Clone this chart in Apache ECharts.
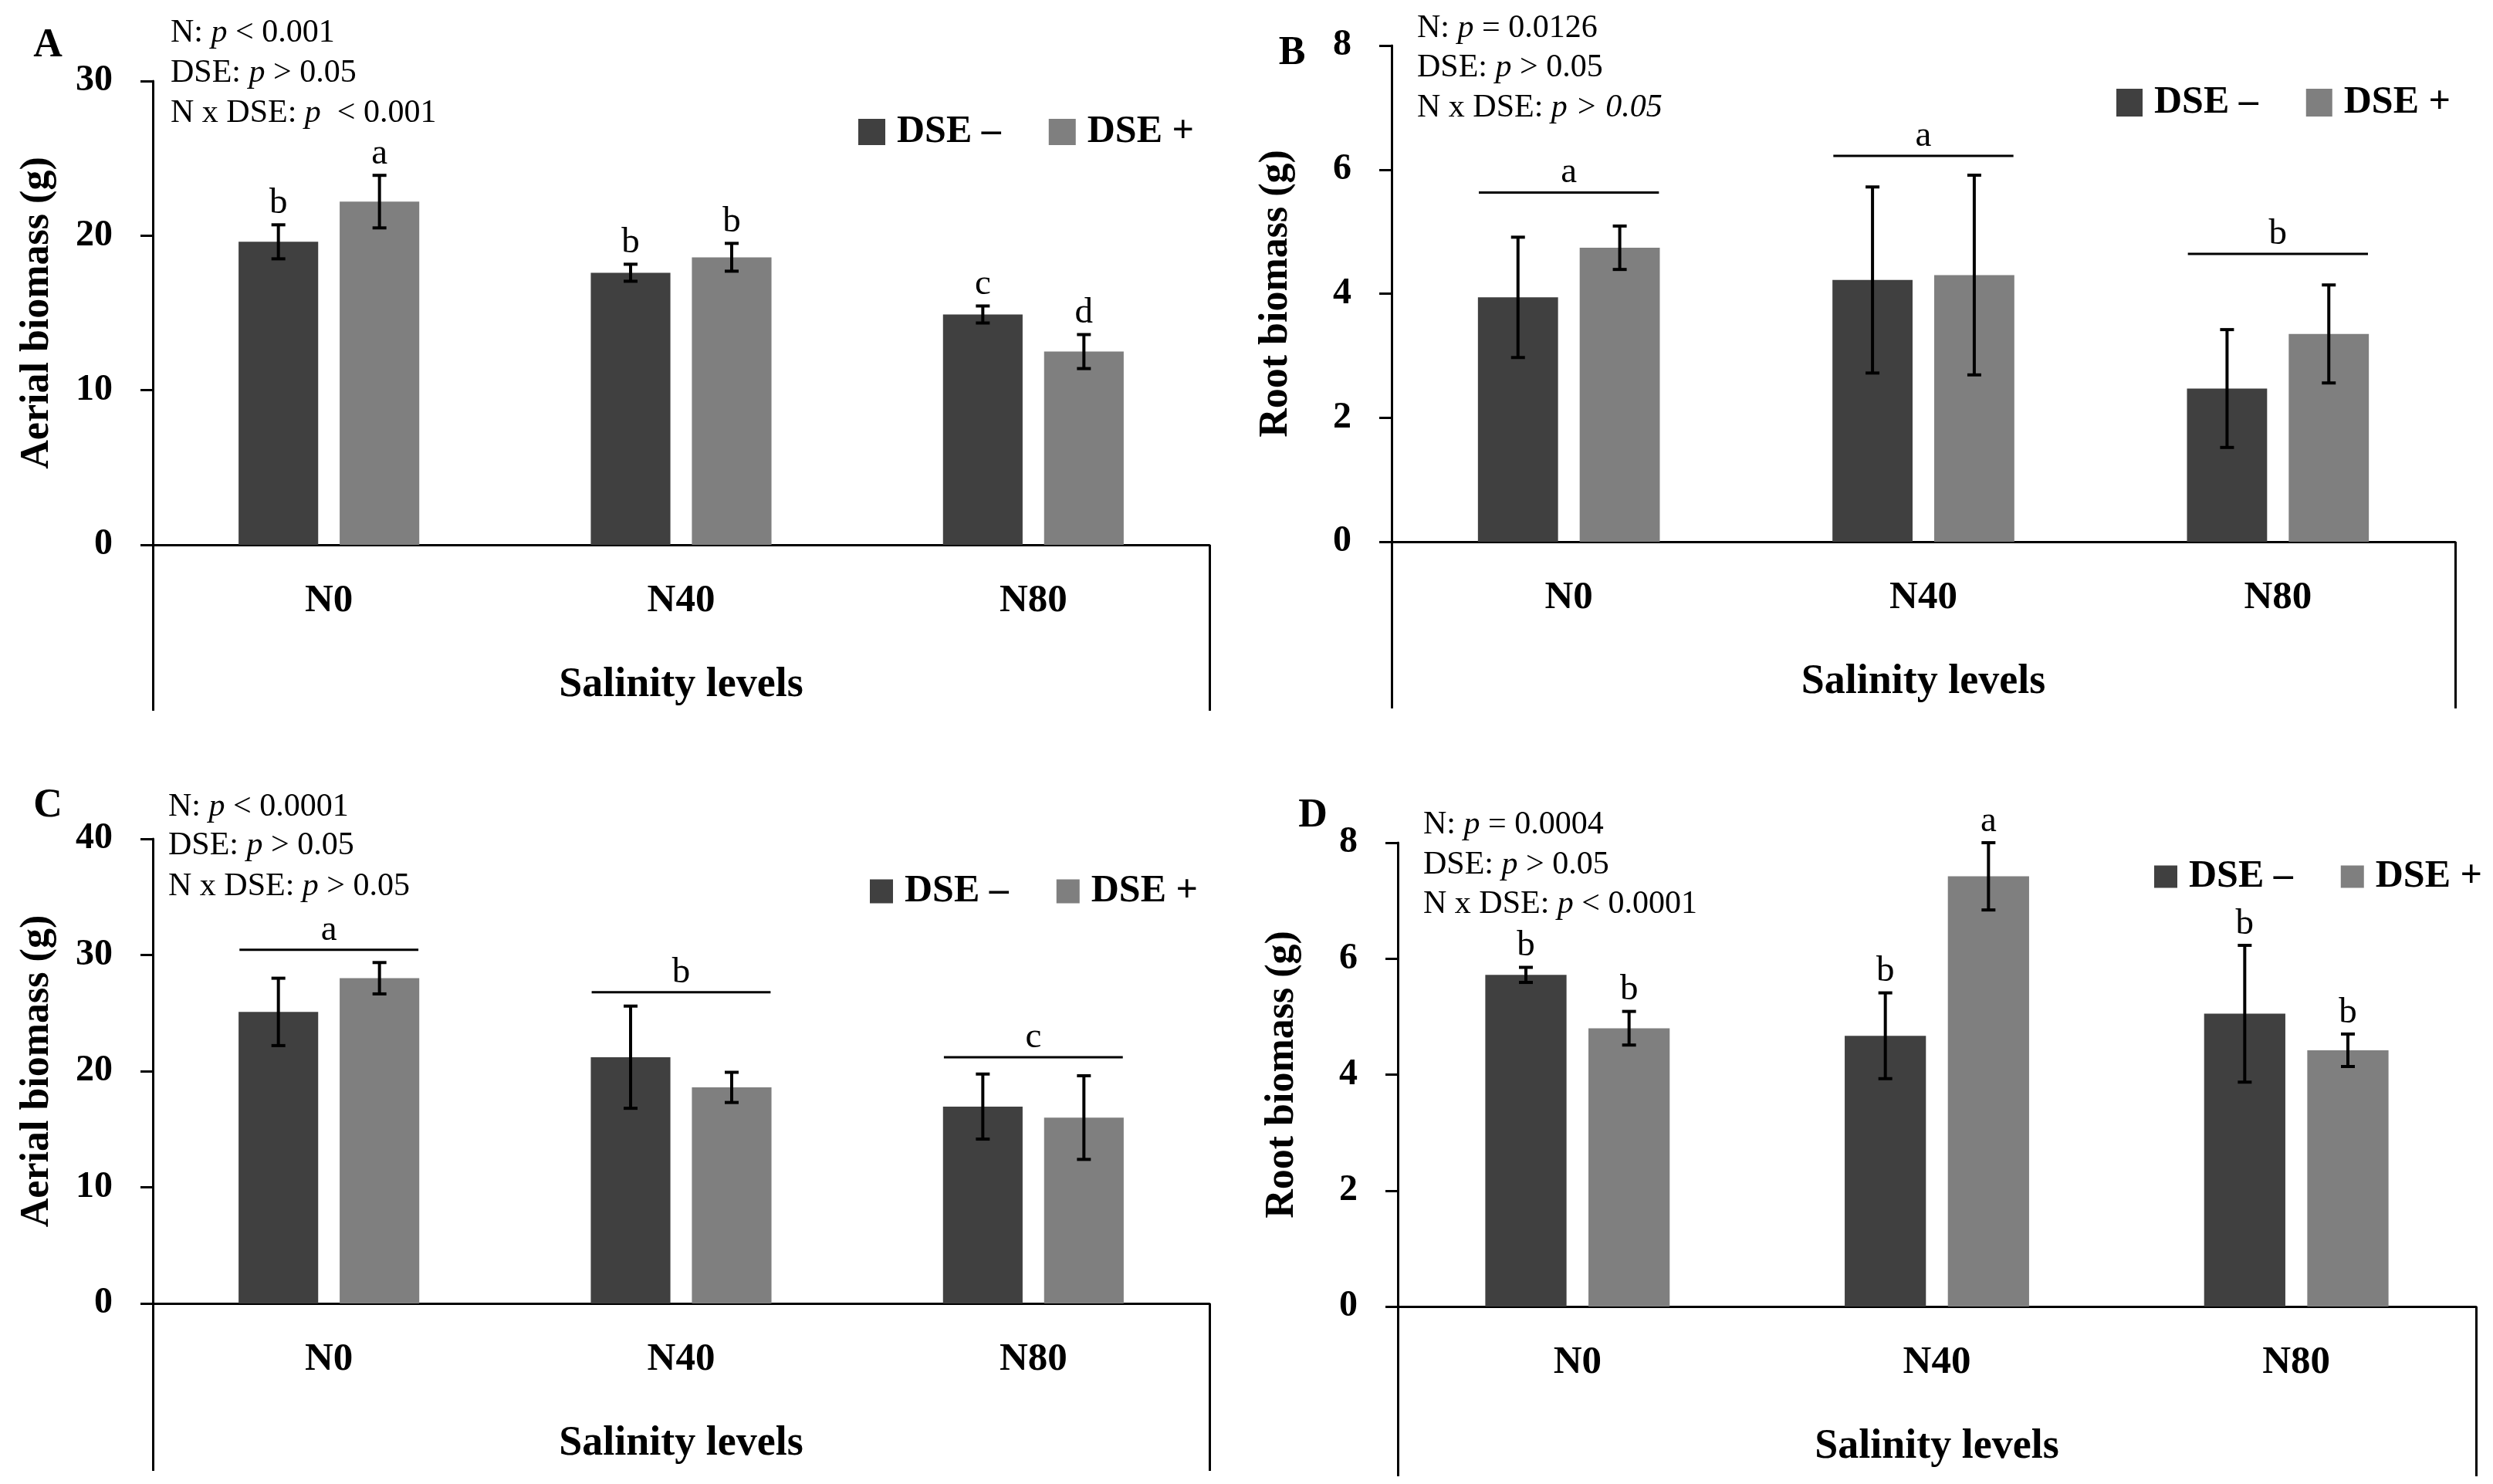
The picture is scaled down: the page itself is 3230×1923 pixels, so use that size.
<!DOCTYPE html>
<html>
<head>
<meta charset="utf-8">
<script src="https://cdn.jsdelivr.net/npm/echarts@6/dist/echarts.min.js"></script>
<style>html,body{margin:0;padding:0;background:#fff;}#c{width:3230px;height:1923px;}</style>
</head>
<body>
<div id="c"></div>
<script>
// ---------- DATA ----------
const categories = ['N0', 'N40', 'N80'];
const seriesNames = ['DSE \u2013', 'DSE +'];

// Panel A: Aerial biomass (g)
const aMinus = [19.6, 17.6, 14.9];
const aMinusErr = [1.1, 0.55, 0.55];
const aPlus = [22.2, 18.6, 12.5];
const aPlusErr = [1.7, 0.9, 1.1];
const aMinusLetters = ['b', 'b', 'c'];
const aPlusLetters = ['a', 'b', 'd'];

// Panel B: Root biomass (g)
const bMinus = [3.94, 4.22, 2.47];
const bMinusErr = [0.97, 1.5, 0.95];
const bPlus = [4.74, 4.30, 3.35];
const bPlusErr = [0.35, 1.61, 0.79];
const bGroupLine = [5.63, 6.22, 4.64];
const bGroupLetters = ['a', 'a', 'b'];

// Panel C: Aerial biomass (g)
const cMinus = [25.1, 21.2, 16.95];
const cMinusErr = [2.9, 4.4, 2.8];
const cPlus = [28.0, 18.6, 16.0];
const cPlusErr = [1.35, 1.3, 3.6];
const cGroupLine = [30.45, 26.8, 21.2];
const cGroupLetters = ['a', 'b', 'c'];

// Panel D: Root biomass (g)
const dMinus = [5.72, 4.67, 5.05];
const dMinusErr = [0.13, 0.74, 1.18];
const dPlus = [4.80, 7.42, 4.42];
const dPlusErr = [0.29, 0.58, 0.28];
const dMinusLetters = ['b', 'b', 'b'];
const dPlusLetters = ['b', 'a', 'b'];

// axis ranges
const yRanges = [
  {min: 0, max: 30, interval: 10},
  {min: 0, max: 8, interval: 2},
  {min: 0, max: 40, interval: 10},
  {min: 0, max: 8, interval: 2}
];
const yTitles = ['Aerial biomass (g)', 'Root biomass (g)', 'Aerial biomass (g)', 'Root biomass (g)'];
const xTitle = 'Salinity levels';
const panelLabels = ['A', 'B', 'C', 'D'];
const pTexts = [
  [['N: ', 'p', ' < 0.001'], ['DSE: ', 'p', ' > 0.05'], ['N x DSE: ', 'p', '  < 0.001']],
  [['N: ', 'p', ' = 0.0126'], ['DSE: ', 'p', ' > 0.05'], ['N x DSE: ', 'p', ' > 0.05', true]],
  [['N: ', 'p', ' < 0.0001'], ['DSE: ', 'p', ' > 0.05'], ['N x DSE: ', 'p', ' > 0.05']],
  [['N: ', 'p', ' = 0.0004'], ['DSE: ', 'p', ' > 0.05'], ['N x DSE: ', 'p', ' < 0.0001']]
];

// ---------- STYLE / LAYOUT ----------
const FONT = "'Liberation Serif', 'Times New Roman', serif";
const DARK = '#404040';
const LIGHT = '#7f7f7f';
const BAR_W = 0.226;
const BAR_GAP = 0.27;

const grids = [
  {left: 198, top: 105, width: 1369, height: 601},
  {left: 1803, top: 59, width: 1378, height: 643},
  {left: 198, top: 1087, width: 1369, height: 602},
  {left: 1811, top: 1092, width: 1397, height: 601}
];
const frameLen = [215, 216, 217, 220];
const legendPos = [
  {left: 1107, top: 141, w: 35, h: 34},
  {left: 2737, top: 103, w: 34, h: 36},
  {left: 1122, top: 1125, w: 30, h: 31},
  {left: 2786, top: 1106, w: 30, h: 29}
];
const pPos = [
  {x: 221, y: [43, 95, 147]},
  {x: 1836, y: [37, 88, 140]},
  {x: 218, y: [1046, 1096, 1149]},
  {x: 1844, y: [1069, 1121, 1172]}
];
const labelPos = [[62, 60], [1674, 70], [62, 1045], [1701, 1058]];

const panels = [
  {minus: aMinus, minusErr: aMinusErr, plus: aPlus, plusErr: aPlusErr, minusLetters: aMinusLetters, plusLetters: aPlusLetters},
  {minus: bMinus, minusErr: bMinusErr, plus: bPlus, plusErr: bPlusErr, groupLine: bGroupLine, groupLetters: bGroupLetters},
  {minus: cMinus, minusErr: cMinusErr, plus: cPlus, plusErr: cPlusErr, groupLine: cGroupLine, groupLetters: cGroupLetters},
  {minus: dMinus, minusErr: dMinusErr, plus: dPlus, plusErr: dPlusErr, minusLetters: dMinusLetters, plusLetters: dPlusLetters}
];

function errorRender(sIdx, letters) {
  return function (params, api) {
    const cat = api.value(0), v = api.value(1), e = api.value(2);
    const band = api.size([1, 0])[0];
    const w = band * BAR_W;
    const off = (sIdx === 0 ? -1 : 1) * w * (1 + BAR_GAP) / 2;
    const t = api.coord([cat, v + e]);
    const b = api.coord([cat, v - e]);
    const x = t[0] + off;
    const cap = 9;
    const ls = {stroke: '#000', lineWidth: 4};
    const children = [
      {type: 'line', shape: {x1: x, y1: t[1], x2: x, y2: b[1]}, style: ls},
      {type: 'line', shape: {x1: x - cap, y1: t[1], x2: x + cap, y2: t[1]}, style: ls},
      {type: 'line', shape: {x1: x - cap, y1: b[1], x2: x + cap, y2: b[1]}, style: ls}
    ];
    if (letters) {
      children.push({type: 'text', x: x, y: t[1] - 4, style: {text: letters[params.dataIndex], font: '47px ' + FONT, fill: '#000', align: 'center', verticalAlign: 'bottom'}});
    }
    return {type: 'group', children: children};
  };
}
function groupRender(letters) {
  return function (params, api) {
    const cat = api.value(0), v = api.value(1);
    const band = api.size([1, 0])[0];
    const p = api.coord([cat, v]);
    const half = band * 0.254;
    return {type: 'group', children: [
      {type: 'line', shape: {x1: p[0] - half, y1: p[1], x2: p[0] + half, y2: p[1]}, style: {stroke: '#000', lineWidth: 3}},
      {type: 'text', x: p[0], y: p[1] - 2, style: {text: letters[params.dataIndex], font: '47px ' + FONT, fill: '#000', align: 'center', verticalAlign: 'bottom'}}
    ]};
  };
}

const grid = [], xAxis = [], yAxis = [], series = [], legend = [], graphic = [];
panels.forEach((pd, i) => {
  grid.push(Object.assign({containLabel: false}, grids[i]));
  xAxis.push({
    type: 'category', gridIndex: i, data: categories,
    axisLine: {lineStyle: {color: '#000', width: 3}},
    axisTick: {show: false},
    axisLabel: {color: '#000', fontFamily: FONT, fontWeight: 'bold', fontSize: 51, margin: 47},
    name: xTitle, nameLocation: 'middle', nameGap: 155,
    nameTextStyle: {color: '#000', fontFamily: FONT, fontWeight: 'bold', fontSize: 54}
  });
  yAxis.push({
    type: 'value', gridIndex: i, min: yRanges[i].min, max: yRanges[i].max, interval: yRanges[i].interval,
    axisLine: {show: true, lineStyle: {color: '#000', width: 3}},
    axisTick: {show: true, length: 16, lineStyle: {color: '#000', width: 3}},
    splitLine: {show: false},
    axisLabel: {color: '#000', fontFamily: FONT, fontWeight: 'bold', fontSize: 48, margin: 52},
    name: yTitles[i], nameLocation: 'middle', nameGap: 123, nameRotate: 90,
    nameTextStyle: {color: '#000', fontFamily: FONT, fontWeight: 'bold', fontSize: 52}
  });
  series.push({
    name: seriesNames[0], type: 'bar', xAxisIndex: i, yAxisIndex: i, data: pd.minus,
    barWidth: (BAR_W * 100) + '%', barGap: (BAR_GAP * 100) + '%', itemStyle: {color: DARK}, z: 2
  });
  series.push({
    name: seriesNames[1], type: 'bar', xAxisIndex: i, yAxisIndex: i, data: pd.plus,
    barWidth: (BAR_W * 100) + '%', barGap: (BAR_GAP * 100) + '%', itemStyle: {color: LIGHT}, z: 2
  });
  series.push({
    type: 'custom', xAxisIndex: i, yAxisIndex: i, z: 5,
    data: pd.minus.map((v, k) => [k, v, pd.minusErr[k]]),
    renderItem: errorRender(0, pd.minusLetters), encode: {x: 0, y: 1}, silent: true
  });
  series.push({
    type: 'custom', xAxisIndex: i, yAxisIndex: i, z: 5,
    data: pd.plus.map((v, k) => [k, v, pd.plusErr[k]]),
    renderItem: errorRender(1, pd.plusLetters), encode: {x: 0, y: 1}, silent: true
  });
  if (pd.groupLine) {
    series.push({
      type: 'custom', xAxisIndex: i, yAxisIndex: i, z: 5,
      data: pd.groupLine.map((v, k) => [k, v]),
      renderItem: groupRender(pd.groupLetters), encode: {x: 0, y: 1}, silent: true
    });
  }
  const lp = legendPos[i];
  legend.push({
    data: seriesNames, left: lp.left, top: lp.top, orient: 'horizontal',
    icon: 'rect', itemWidth: lp.w, itemHeight: lp.h, itemGap: 62,
    textStyle: {color: '#000', fontFamily: FONT, fontWeight: 'bold', fontSize: 50, lineHeight: 50, padding: [0, 0, 0, 10]},
    selectedMode: false
  });
  // p-value annotations
  pTexts[i].forEach((parts, k) => {
    graphic.push({
      type: 'text', x: pPos[i].x, y: pPos[i].y[k],
      style: {
        text: '{r|' + parts[0] + '}{i|' + parts[1] + '}{' + (parts[3] ? 'i' : 'r') + '|' + parts[2] + '}',
        verticalAlign: 'middle', align: 'left',
        rich: {
          r: {font: '42px ' + FONT, fill: '#000'},
          i: {font: 'italic 42px ' + FONT, fill: '#000'}
        }
      }
    });
  });
  graphic.push({
    type: 'text', x: labelPos[i][0], y: labelPos[i][1],
    style: {text: panelLabels[i], font: 'bold 52px ' + FONT, fill: '#000', align: 'center', verticalAlign: 'middle'}
  });
});
// frame axes: vertical lines at left and right edge below the category axis
panels.forEach((pd, i) => {
  xAxis.push({
    type: 'value', gridIndex: i, min: 0, max: 1, interval: 1, position: 'bottom',
    axisLine: {show: false}, axisLabel: {show: false}, splitLine: {show: false},
    axisTick: {show: true, length: frameLen[i], lineStyle: {color: '#000', width: 3}}
  });
});

const chart = echarts.init(document.getElementById('c'), null, {renderer: 'canvas'});
chart.setOption({
  backgroundColor: '#fff',
  animation: false,
  grid: grid, xAxis: xAxis, yAxis: yAxis, series: series, legend: legend, graphic: graphic
});
</script>
</body>
</html>
